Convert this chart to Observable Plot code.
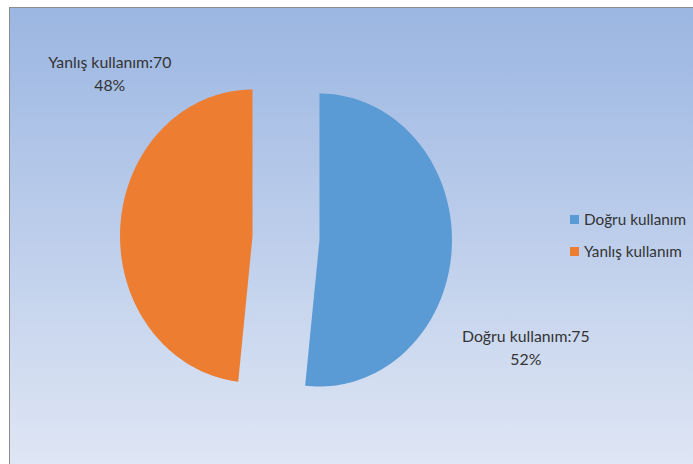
<!DOCTYPE html>
<html>
<head>
<meta charset="utf-8">
<script src="https://cdn.jsdelivr.net/npm/d3@7"></script>
<script src="https://cdn.jsdelivr.net/npm/@observablehq/plot@0.6"></script>
<style>
  html, body { margin: 0; padding: 0; background: #fff; }
  #wrap { position: relative; width: 693px; height: 464px; overflow: hidden; font-family: Lato, "Open Sans", sans-serif; }
  #bg { position: absolute; left: 9px; top: 7px; right: -2px; bottom: -2px;
        border-left: 1px solid #8c8c8c; border-top: 1px solid #8c8c8c;
        background: linear-gradient(to bottom, #9bb6e2, #dfe6f4); }
  #chart { position: absolute; left: 0; top: 0; }
  #legend { position: absolute; left: 570px; top: 211px; font-size: 15.3px; color: #333; }
  .item { display: flex; align-items: center; height: 16px; margin-bottom: 16px; }
  .sw { width: 9px; height: 9px; margin-right: 5px; }
</style>
</head>
<body>
<div id="wrap">
  <div id="bg"></div>
  <div id="chart"></div>
  <div id="legend"></div>
</div>
<script>
// Data
const categories = ["Doğru kullanım", "Yanlış kullanım"];
const values = [75, 70];
const colors = ["#5b9bd5", "#ed7d31"];

// Layout (unit-space label anchors, explosion)
const explode = 0.253;
const labelAnchors = [[1.81, -0.74], [-1.33, 1.13]];

const total = d3.sum(values);
const pie = d3.pie().sort(null).value(d => d.value)(categories.map((c, i) => ({cat: c, value: values[i]})));

// Build slice polygons in unit space (angle 0 = 12 o'clock, clockwise)
const pts = [];
pie.forEach(s => {
  const mid = (s.startAngle + s.endAngle) / 2;
  const ox = explode * Math.sin(mid), oy = explode * Math.cos(mid);
  pts.push({cat: s.data.cat, x: ox, y: oy});
  const n = 120;
  for (let k = 0; k <= n; k++) {
    const a = s.startAngle + (s.endAngle - s.startAngle) * k / n;
    pts.push({cat: s.data.cat, x: ox + Math.sin(a), y: oy + Math.cos(a)});
  }
});

const labels = categories.map((c, i) => ({
  cat: c, x: labelAnchors[i][0], y: labelAnchors[i][1],
  text: `${c}:${values[i]}\n${Math.round(values[i] / total * 100)}%`
}));

const W = 693, H = 464, cx = 285.5, cy = 237.5, rx = 132.5, ry = 146.5;

const chart = Plot.plot({
  width: W, height: H,
  margin: 0,
  x: {domain: [-cx / rx, (W - cx) / rx], axis: null},
  y: {domain: [(cy - H) / ry, cy / ry], axis: null},
  color: {domain: categories, range: colors},
  style: {background: "transparent", overflow: "visible"},
  marks: [
    Plot.line(pts, {x: "x", y: "y", z: "cat", fill: "cat", stroke: "none", curve: "linear-closed"}),
    Plot.text(labels, {x: "x", y: "y", text: "text", fontSize: 15.8, fill: "#333",
      fontFamily: "Lato, 'Open Sans', sans-serif", lineHeight: 1.4, textAnchor: "middle"})
  ]
});
document.getElementById("chart").appendChild(chart);

const legend = document.getElementById("legend");
categories.forEach((c, i) => {
  const it = document.createElement("div");
  it.className = "item";
  const sw = document.createElement("div");
  sw.className = "sw";
  sw.style.background = chart.scale("color").apply(c);
  const t = document.createElement("span");
  t.textContent = c;
  it.appendChild(sw); it.appendChild(t);
  legend.appendChild(it);
});
</script>
</body>
</html>
